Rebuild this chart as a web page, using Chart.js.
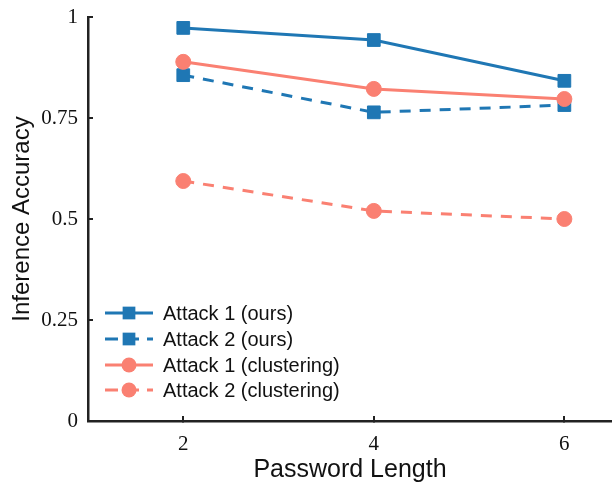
<!DOCTYPE html>
<html>
<head>
<meta charset="utf-8">
<script src="https://cdn.jsdelivr.net/npm/chart.js@4.4.1/dist/chart.umd.min.js"></script>
<style>
  html, body { margin: 0; padding: 0; background: #fff; }
  #wrap { width: 612px; height: 487px; }
</style>
</head>
<body>
<div id="wrap"><canvas id="acc_chart" width="612" height="487"></canvas></div>
<script>
// data
const passwordLength = [2, 4, 6];
const attack1Ours = [0.973, 0.943, 0.842];
const attack2Ours = [0.856, 0.764, 0.782];
const attack1Clustering = [0.889, 0.822, 0.797];
const attack2Clustering = [0.594, 0.520, 0.500];
const xTicks = [2, 4, 6];
const yTicks = [0, 0.25, 0.5, 0.75, 1];

const BLUE = '#1f77b4';
const SALMON = '#fa8072';
const serif = '"Liberation Serif", "Times New Roman", serif';
const sans = '"Liberation Sans", Arial, sans-serif';

function pts(ys) {
  return passwordLength.map((x, i) => ({ x: x, y: ys[i] }));
}

function series(label, ys, color, dashed, marker) {
  return {
    label: label,
    data: pts(ys),
    borderColor: color,
    backgroundColor: color,
    borderWidth: 3,
    borderDash: dashed ? [11, 9] : [],
    pointStyle: marker,
    pointRadius: marker === 'rect' ? 9 : 7.5,
    pointHoverRadius: marker === 'rect' ? 9 : 7.5,
    pointBorderWidth: 1,
    pointBorderColor: color,
    pointBackgroundColor: color,
    tension: 0,
    order: marker === 'rect' ? 1 : 0
  };
}

// legend drawn inside the plot, line with marker in the middle
const innerLegend = {
  id: 'innerLegend',
  afterDraw(chart) {
    const ctx = chart.ctx;
    const x0 = 105, x1 = 153, tx = 163;
    const rows = [313, 339, 365, 390];
    chart.data.datasets.forEach((ds, i) => {
      const y = rows[i];
      ctx.save();
      ctx.strokeStyle = ds.borderColor;
      ctx.lineWidth = ds.borderWidth;
      ctx.setLineDash(ds.borderDash.length ? [13, 8] : []);
      ctx.beginPath();
      ctx.moveTo(x0, y);
      ctx.lineTo(x1, y);
      ctx.stroke();
      ctx.setLineDash([]);
      ctx.fillStyle = ds.backgroundColor;
      const cx = (x0 + x1) / 2;
      ctx.beginPath();
      if (ds.pointStyle === 'rect') {
        const s = ds.pointRadius * Math.SQRT1_2;
        ctx.rect(cx - s, y - s, 2 * s, 2 * s);
      } else {
        ctx.arc(cx, y, ds.pointRadius, 0, Math.PI * 2);
      }
      ctx.fill();
      ctx.fillStyle = '#111';
      ctx.font = '20px ' + sans;
      ctx.textBaseline = 'middle';
      ctx.textAlign = 'left';
      ctx.fillText(ds.label, tx, y + 1);
      ctx.restore();
    });
  }
};

new Chart(document.getElementById('acc_chart'), {
  type: 'line',
  data: {
    datasets: [
      series('Attack 1 (ours)', attack1Ours, BLUE, false, 'rect'),
      series('Attack 2 (ours)', attack2Ours, BLUE, true, 'rect'),
      series('Attack 1 (clustering)', attack1Clustering, SALMON, false, 'circle'),
      series('Attack 2 (clustering)', attack2Clustering, SALMON, true, 'circle')
    ]
  },
  options: {
    responsive: false,
    animation: false,
    layout: { autoPadding: false, padding: { top: 17, right: 0, left: 0, bottom: 0 } },
    plugins: {
      legend: { display: false },
      tooltip: { enabled: false }
    },
    scales: {
      x: {
        type: 'linear',
        min: 1,
        max: 6.5,
        afterBuildTicks: (s) => { s.ticks = xTicks.map(v => ({ value: v })); },
        afterFit: (s) => { s.height = 66; s.paddingRight = 0; s.paddingLeft = 0; },
        grid: { drawOnChartArea: false, color: '#222', lineWidth: 2, tickLength: -5 },
        border: { color: '#222', width: 2.5 },
        ticks: { color: '#111', font: { family: serif, size: 21 }, padding: 16, maxRotation: 0 },
        title: { display: true, text: 'Password Length', color: '#111', font: { family: sans, size: 25 }, padding: { top: 0, bottom: 2 } }
      },
      y: {
        min: 0,
        max: 1,
        afterBuildTicks: (s) => { s.ticks = yTicks.map(v => ({ value: v })); },
        afterFit: (s) => { s.width = 88; s.paddingTop = 0; s.paddingBottom = 0; },
        grid: { drawOnChartArea: false, color: '#222', lineWidth: 2, tickLength: -5 },
        border: { color: '#222', width: 2.5 },
        ticks: { color: '#111', font: { family: serif, size: 21 }, padding: 15,
          callback: (v) => String(v) },
        title: { display: true, text: 'Inference Accuracy', color: '#111', font: { family: sans, size: 24 }, padding: { top: 8, bottom: 0 } }
      }
    }
  },
  plugins: [innerLegend]
});
</script>
</body>
</html>
